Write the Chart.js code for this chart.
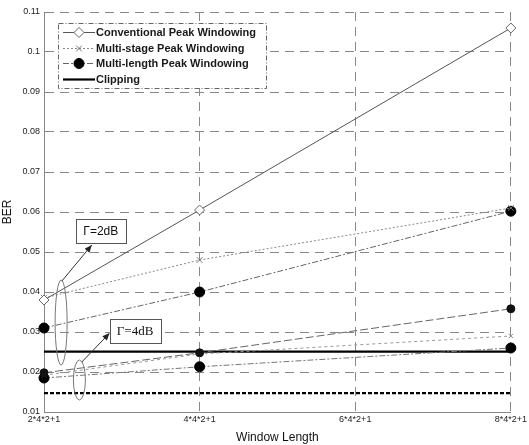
<!DOCTYPE html>
<html>
<head>
<meta charset="utf-8">
<script src="https://cdn.jsdelivr.net/npm/chart.js@4/dist/chart.umd.min.js"></script>
<style>
  html, body { margin: 0; padding: 0; background: #fff; }
  #wrap { width: 529px; height: 445px; position: relative; }
</style>
</head>
<body>
<div id="wrap"><canvas id="c" width="529" height="445"></canvas></div>
<script>
// ---- data ----
const windowLengths = [2, 4, 8];
const xTickValues = [2, 4, 6, 8];
const xTickLabels = ['2*4*2+1', '4*4*2+1', '6*4*2+1', '8*4*2+1'];
const yTickValues = [0.01, 0.02, 0.03, 0.04, 0.05, 0.06, 0.07, 0.08, 0.09, 0.1, 0.11];

// Gamma = 2 dB
const conventional2dB = [0.038, 0.0605, 0.106];
const multiStage2dB   = [0.0385, 0.048, 0.061];
const multiLength2dB  = [0.031, 0.040, 0.0602];
// Gamma = 4 dB
const conventional4dB = [0.0198, 0.0248, 0.0358];
const multiStage4dB   = [0.0192, 0.0245, 0.029];
const multiLength4dB  = [0.0185, 0.0213, 0.026];
// Clipping
const clippingSolid  = [0.0251, 0.0251, 0.0251];
const clippingDashed = [0.0147, 0.0147, 0.0147];

const legendLabels = ['Conventional Peak Windowing', 'Multi-stage Peak Windowing', 'Multi-length Peak Windowing', 'Clipping'];

function pts(vals) { return windowLengths.map((x, i) => ({ x: x, y: vals[i] })); }

const datasets = [
  { label: legendLabels[0], data: pts(conventional2dB), borderColor: '#555', borderWidth: 1,
    pointStyle: 'rectRot', pointRadius: 5, pointBackgroundColor: '#fff', pointBorderColor: '#666', pointBorderWidth: 1, legendKey: 0 },
  { label: legendLabels[1], data: pts(multiStage2dB), borderColor: '#888', borderWidth: 1, borderDash: [2, 2],
    pointStyle: 'crossRot', pointRadius: 4, pointBorderColor: '#777', pointBorderWidth: 1, legendKey: 1 },
  { label: legendLabels[2], data: pts(multiLength2dB), borderColor: '#666', borderWidth: 1, borderDash: [6, 2, 2, 2],
    pointStyle: 'circle', pointRadius: 5, pointBackgroundColor: '#000', pointBorderColor: '#000', legendKey: 2 },
  { label: legendLabels[0] + ' 4dB', data: pts(conventional4dB), borderColor: '#666', borderWidth: 1, borderDash: [8, 3],
    pointStyle: 'circle', pointRadius: 4, pointBackgroundColor: '#111', pointBorderColor: '#111' },
  { label: legendLabels[1] + ' 4dB', data: pts(multiStage4dB), borderColor: '#999', borderWidth: 1, borderDash: [3, 3],
    pointStyle: 'crossRot', pointRadius: 3, pointBorderColor: '#888', pointBorderWidth: 1 },
  { label: legendLabels[2] + ' 4dB', data: pts(multiLength4dB), borderColor: '#777', borderWidth: 1, borderDash: [6, 2, 2, 2],
    pointStyle: 'circle', pointRadius: 5, pointBackgroundColor: '#000', pointBorderColor: '#000' },
  { label: legendLabels[3], data: pts(clippingSolid), borderColor: '#000', borderWidth: 2.2, pointRadius: 0, legendKey: 3 },
  { label: legendLabels[3] + ' 2', data: pts(clippingDashed), borderColor: '#000', borderWidth: 2.2, borderDash: [4, 2], pointRadius: 0 }
];
datasets.forEach(d => { d.clip = false; });

// ---- annotations & legend plugin ----
const overlayPlugin = {
  id: 'overlay',
  afterDatasetsDraw(chart) {
    const ctx = chart.ctx, xs = chart.scales.x, ys = chart.scales.y;
    const X = v => xs.getPixelForValue(v), Y = v => ys.getPixelForValue(v);
    ctx.save();

    function ellipse(cx, yTop, yBot, rx) {
      const cy = (Y(yTop) + Y(yBot)) / 2, ry = Math.abs(Y(yBot) - Y(yTop)) / 2;
      ctx.beginPath(); ctx.setLineDash([]); ctx.strokeStyle = '#777'; ctx.lineWidth = 1;
      ctx.ellipse(X(cx), cy, rx, ry, 0, 0, Math.PI * 2); ctx.stroke();
    }
    ellipse(2.22, 0.043, 0.02175, 6);
    ellipse(2.455, 0.023, 0.013, 6);

    function arrow(x1, y1, x2, y2) {
      const ax = X(x1), ay = Y(y1), bx = X(x2), by = Y(y2);
      ctx.beginPath(); ctx.setLineDash([]); ctx.strokeStyle = '#333'; ctx.lineWidth = 1;
      ctx.moveTo(ax, ay); ctx.lineTo(bx, by); ctx.stroke();
      const ang = Math.atan2(by - ay, bx - ax), L = 8, w = 0.4;
      ctx.beginPath(); ctx.fillStyle = '#222';
      ctx.moveTo(bx, by);
      ctx.lineTo(bx - L * Math.cos(ang - w), by - L * Math.sin(ang - w));
      ctx.lineTo(bx - L * Math.cos(ang + w), by - L * Math.sin(ang + w));
      ctx.closePath(); ctx.fill();
    }
    arrow(2.23, 0.04275, 2.614, 0.05175);
    arrow(2.486, 0.0225, 2.844, 0.02975);

    function box(x1, x2, yTop, yBot, text, font) {
      const l = X(x1), r = X(x2), t = Y(yTop), b = Y(yBot);
      ctx.setLineDash([]); ctx.strokeStyle = '#555'; ctx.lineWidth = 1;
      ctx.fillStyle = '#fff'; ctx.fillRect(l, t, r - l, b - t);
      ctx.strokeRect(Math.round(l) + 0.5, Math.round(t) + 0.5, Math.round(r - l), Math.round(b - t));
      ctx.fillStyle = '#111'; ctx.font = font;
      ctx.textAlign = 'center'; ctx.textBaseline = 'middle';
      ctx.fillText(text, (l + r) / 2, (t + b) / 2 + 1);
    }
    box(2.41, 3.05, 0.05825, 0.05225, 'Γ=2dB', '12px "Liberation Sans", Arial, sans-serif');
    box(2.844, 3.497, 0.03325, 0.02725, 'Γ=4dB', '13px "Liberation Serif", serif');

    // legend
    const lx = 58, ly = 23, lw = 208, lh = 65;
    ctx.fillStyle = '#fff'; ctx.fillRect(lx, ly, lw, lh);
    ctx.strokeStyle = '#666'; ctx.lineWidth = 1; ctx.setLineDash([5, 2, 1, 2]);
    ctx.strokeRect(lx + 0.5, ly + 0.5, lw, lh);
    const rows = [32, 48, 63, 79];
    ctx.font = 'bold 11px "Liberation Sans", Arial, sans-serif';
    ctx.textAlign = 'left'; ctx.textBaseline = 'middle';
    chart.data.datasets.forEach(ds => {
      if (ds.legendKey === undefined) return;
      const yy = rows[ds.legendKey] + 0.5;
      ctx.beginPath(); ctx.strokeStyle = ds.borderColor; ctx.lineWidth = ds.borderWidth;
      ctx.setLineDash(ds.borderDash || []);
      ctx.moveTo(63, yy); ctx.lineTo(95, yy); ctx.stroke();
      ctx.setLineDash([]);
      if (ds.pointRadius > 0) {
        ctx.fillStyle = ds.pointBackgroundColor || '#fff';
        ctx.strokeStyle = ds.pointBorderColor || '#000';
        ctx.lineWidth = ds.pointBorderWidth || 1;
        ctx.beginPath();
        if (ds.pointStyle === 'circle') { ctx.arc(79, yy, ds.pointRadius, 0, Math.PI * 2); ctx.fill(); ctx.stroke(); }
        else if (ds.pointStyle === 'rectRot') {
          const r = ds.pointRadius; ctx.moveTo(79, yy - r); ctx.lineTo(79 + r, yy); ctx.lineTo(79, yy + r); ctx.lineTo(79 - r, yy); ctx.closePath(); ctx.fill(); ctx.stroke();
        } else { const r = ds.pointRadius * 0.7; ctx.moveTo(79 - r, yy - r); ctx.lineTo(79 + r, yy + r); ctx.moveTo(79 + r, yy - r); ctx.lineTo(79 - r, yy + r); ctx.stroke(); }
      }
      ctx.fillStyle = '#1a1a1a';
      ctx.fillText(ds.label, 96, yy + 0.5);
    });
    ctx.restore();
  }
};

new Chart(document.getElementById('c'), {
  type: 'line',
  data: { datasets: datasets },
  plugins: [overlayPlugin],
  options: {
    responsive: false,
    animation: false,
    devicePixelRatio: 1,
    layout: { padding: { left: 0, right: 16, top: 12, bottom: 0 } },
    plugins: { legend: { display: false }, tooltip: { enabled: false } },
    elements: { line: { tension: 0, fill: false } },
    scales: {
      x: {
        type: 'linear', min: 2, max: 8,
        afterBuildTicks: s => { s.ticks = xTickValues.map(v => ({ value: v })); },
        afterFit: s => { s.height = 33; },
        ticks: {
          callback: v => xTickLabels[xTickValues.indexOf(v)],
          font: { size: 9, family: '"Liberation Sans", Arial, sans-serif' }, color: '#222',
          padding: 2, maxRotation: 0, autoSkip: false
        },
        grid: { color: '#888', lineWidth: 1, drawTicks: false },
        border: { color: '#888', dash: [9, 6] },
        title: { display: true, text: 'Window Length', color: '#111',
          font: { size: 12, family: '"Liberation Sans", Arial, sans-serif' }, padding: { top: 0, bottom: 0 } }
      },
      y: {
        type: 'linear', min: 0.01, max: 0.11,
        afterBuildTicks: s => { s.ticks = yTickValues.map(v => ({ value: v })); },
        afterFit: s => { s.width = 44; },
        ticks: {
          callback: v => String(Number(v.toFixed(2))),
          font: { size: 9, family: '"Liberation Sans", Arial, sans-serif' }, color: '#222', padding: 4
        },
        grid: { color: '#888', lineWidth: 1, drawTicks: false },
        border: { color: '#888', dash: [9, 6] },
        title: { display: true, text: 'BER', color: '#111',
          font: { size: 12, family: '"Liberation Sans", Arial, sans-serif' }, padding: { top: 0, bottom: 4 } }
      }
    }
  }
});
</script>
</body>
</html>
